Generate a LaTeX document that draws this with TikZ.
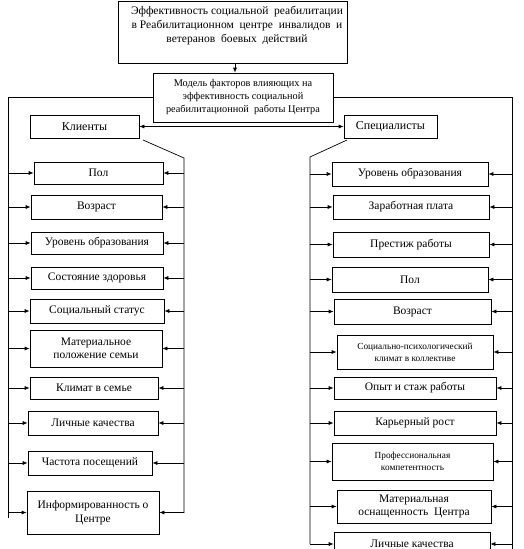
\documentclass[tikz,border=0pt]{standalone}
\usepackage{fontspec}
\setmainfont{Liberation Serif}
\usetikzlibrary{arrows.meta,calc}

\begin{document}
\begin{tikzpicture}[
  x=1pt, y=-1pt,
  blok/.style={rectangle, draw, line width=0.7pt, align=center, inner sep=1pt, font=\fontsize{12}{14}\selectfont},
  fakt/.style={blok, font=\fontsize{11.5}{13.5}\selectfont},
  melko/.style={font=\fontsize{9.3}{12}\selectfont},
  linija/.style={line width=0.7pt},
  strelka/.style={-{Latex[length=5pt,width=4pt]}, line width=0.7pt}
]
\useasboundingbox (0,0) rectangle (523,549);

% verh
\node[blok, minimum width=229, minimum height=62] (eff) at (232.5,32) {};
\node[anchor=north, align=center, inner sep=0pt, font=\fontsize{11.5}{14}\selectfont] (efftxt) at (237,6)
  {Эффективность социальной \ реабилитации\\в Реабилитационном \ центре \ инвалидов \ и\\ветеранов \ боевых \ действий};
\node[blok, font=\fontsize{10.3}{13}\selectfont, minimum width=180, minimum height=49] (model) at (243,97.5)
  {Модель факторов влияющих на\\эффективность социальной\\реабилитационной \ работы Центра};
\draw[strelka] ([xshift=2.5]eff.south) -- ([xshift=-8]model.north);

\node[blok, minimum width=109, minimum height=23] (klienty) at (84.5,126.5) {Клиенты};
\node[blok, minimum width=93, minimum height=23] (spec) at (390.5,126.5) {Специалисты};
\draw[{Latex[length=5pt,width=4pt]}-{Latex[length=5pt,width=4pt]}, line width=0.7pt] (klienty) -- (spec);

% linii
\coordinate (outL) at (8,97.5);
\coordinate (outLk) at (8,518);
\coordinate (outR) at (512,97.5);
\coordinate (outRk) at (512,552);
\coordinate (inL0) at (143,140);
\coordinate (inL1) at (184,158);
\coordinate (inL2) at (184,513);
\coordinate (inR0) at (347,140);
\coordinate (inR1) at (310,157);
\coordinate (inR2) at (310,544);
\draw[linija] (model.west) -- (outL) -- (outLk);
\draw[linija] (model.east) -- (outR) -- (outRk);
\draw[linija] (inL0) -- (inL1) -- (inL2);
\draw[linija] (inR0) -- (inR1) -- (inR2);

% klienty
\node[fakt, minimum width=129, minimum height=22] (kl1) at (98.5,173) {Пол};
\node[fakt, minimum width=131, minimum height=24] (kl2) at (96.5,207) {Возраст};
\node[fakt, minimum width=132, minimum height=22] (kl3) at (97,243) {Уровень образования};
\node[fakt, minimum width=132, minimum height=22] (kl4) at (97,278) {Состояние здоровья};
\node[fakt, minimum width=134, minimum height=24] (kl5) at (97,311) {Социальный статус};
\node[fakt, minimum width=132, minimum height=37] (kl6) at (96,348.5) {Материальное\\положение семьи};
\node[fakt, minimum width=128, minimum height=22] (kl7) at (94,388) {Климат в семье};
\node[fakt, minimum width=130, minimum height=24] (kl8) at (93,423) {Личные качества};
\node[fakt, minimum width=124, minimum height=24] (kl9) at (90,463) {Частота посещений};
\node[fakt, minimum width=132, minimum height=43] (kl10) at (93,512.5) {Информированность о\\Центре};

% specialisty
\node[fakt, minimum width=156, minimum height=24] (sp1) at (410,174) {Уровень образования};
\node[fakt, minimum width=156, minimum height=24] (sp2) at (411,207) {Заработная плата};
\node[fakt, minimum width=156, minimum height=25] (sp3) at (411,244.5) {Престиж работы};
\node[fakt, minimum width=156, minimum height=25] (sp4) at (410,279.5) {Пол};
\node[fakt, minimum width=157, minimum height=25] (sp5) at (412.5,311.5) {Возраст};
\node[fakt, melko, minimum width=156, minimum height=34] (sp6) at (415,352) {Социально-психологический\\климат в коллективе};
\node[fakt, minimum width=162, minimum height=22] (sp7) at (415,388) {Опыт и стаж работы};
\node[fakt, minimum width=162, minimum height=24] (sp8) at (415,423) {Карьерный рост};
\node[fakt, melko, minimum width=161, minimum height=37] (sp9) at (412.5,461.5) {Профессиональная\\компетентность};
\node[fakt, minimum width=154, minimum height=33] (sp10) at (414,506.5) {Материальная\\оснащенность \ Центра};
\node[fakt, minimum width=156, minimum height=24] (sp11) at (412,544) {Личные качества};

\foreach \i in {1,...,10} {
  \draw[strelka] (outL |- kl\i.west) -- (kl\i.west);
  \draw[strelka] (inL1 |- kl\i.east) -- (kl\i.east);
}
\foreach \i in {1,...,11} {
  \draw[strelka] (inR1 |- sp\i.west) -- (sp\i.west);
  \draw[strelka] (outR |- sp\i.east) -- (sp\i.east);
}
\end{tikzpicture}
\end{document}
